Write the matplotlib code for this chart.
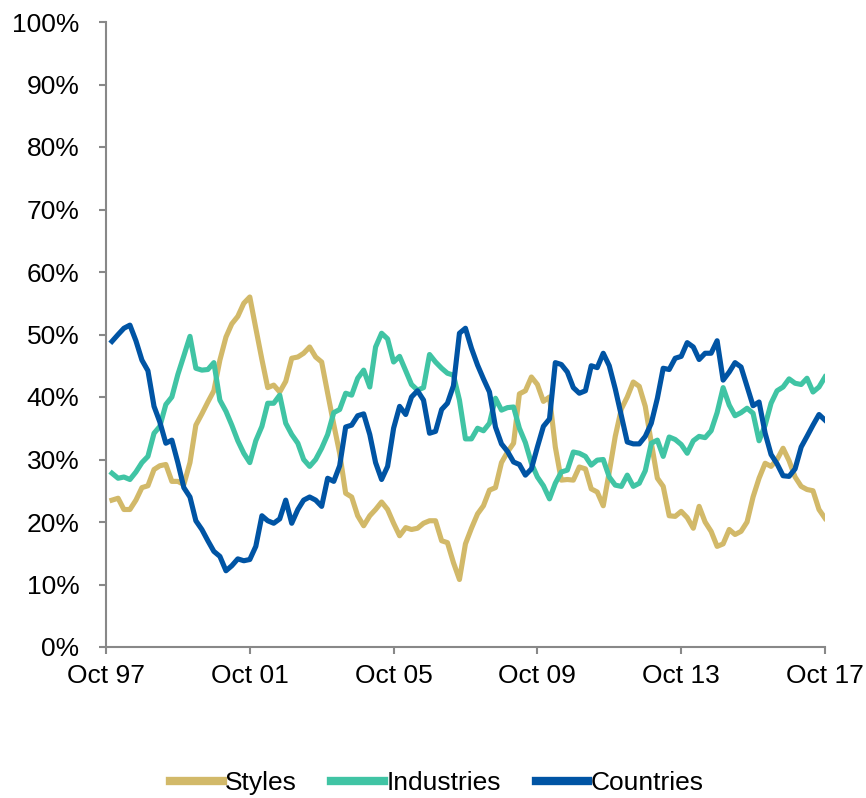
import numpy as np
import pandas as pd
import matplotlib
matplotlib.use("Agg")
import matplotlib.pyplot as plt
import matplotlib.dates as mdates
from matplotlib.ticker import MultipleLocator, FuncFormatter

plt.rcParams['font.family'] = ['Liberation Sans', 'DejaVu Sans']

# bi-monthly readings, Dec 97 .. Oct 17 (percent)
dates = pd.date_range('1997-12-01', periods=120, freq='2MS')

styles = [23.5, 23.8, 22.0, 22.0, 23.5, 25.5, 25.8, 28.4, 29.0, 29.2,
          26.5, 26.5, 26.0, 29.5, 35.5, 37.3, 39.2, 41.0, 45.9, 49.6,
          51.7, 52.9, 55.0, 56.0, 51.0, 46.0, 41.5, 41.9, 40.8, 42.5,
          46.2, 46.4, 47.0, 48.0, 46.4, 45.6, 40.6, 35.6, 31.0, 24.6,
          24.0, 21.0, 19.4, 21.0, 22.0, 23.2, 22.0, 19.8, 17.8, 19.1,
          18.8, 19.0, 19.8, 20.2, 20.2, 17.0, 16.7, 13.5, 10.8, 16.5,
          19.0, 21.3, 22.6, 25.1, 25.5, 29.5, 31.2, 32.6, 40.5, 41.0,
          43.2, 42.0, 39.3, 40.0, 32.0, 26.7, 26.8, 26.7, 28.8, 28.5,
          25.3, 24.8, 22.6, 28.0, 33.7, 38.1, 40.0, 42.4, 41.7, 38.5,
          32.7, 27.0, 25.7, 21.0, 20.9, 21.7, 20.7, 19.0, 22.5, 20.0,
          18.5, 16.1, 16.5, 18.8, 18.0, 18.5, 20.0, 24.0, 27.0, 29.4,
          28.9, 30.0, 31.8, 29.8, 27.2, 25.7, 25.2, 25.0, 22.0, 20.6]

industries = [27.8, 27.0, 27.2, 26.8, 28.0, 29.5, 30.5, 34.2, 35.3, 38.8,
              40.0, 43.6, 46.6, 49.7, 44.6, 44.3, 44.4, 45.5, 39.5, 37.7,
              35.5, 33.0, 31.0, 29.5, 33.0, 35.3, 39.0, 39.0, 40.3, 35.8,
              34.0, 32.6, 30.0, 28.9, 30.0, 31.8, 34.0, 37.5, 38.0, 40.6,
              40.3, 43.0, 44.3, 41.6, 48.0, 50.2, 49.3, 45.6, 46.5, 44.2,
              42.0, 41.1, 41.5, 46.8, 45.6, 44.6, 43.8, 43.5, 39.5, 33.3,
              33.3, 35.0, 34.6, 35.8, 39.8, 37.9, 38.3, 38.4, 35.0, 32.7,
              29.4, 27.2, 25.8, 23.7, 26.2, 28.0, 28.3, 31.2, 31.0, 30.5,
              29.1, 29.9, 30.0, 27.2, 25.9, 25.7, 27.5, 25.7, 26.2, 28.2,
              32.6, 33.1, 30.5, 33.6, 33.2, 32.4, 31.0, 33.0, 33.7, 33.5,
              34.6, 37.5, 41.5, 38.7, 37.0, 37.5, 38.2, 37.4, 33.0, 35.5,
              39.0, 41.0, 41.6, 42.9, 42.2, 42.0, 43.0, 40.8, 41.6, 43.2]

countries = [48.9, 50.0, 51.0, 51.5, 49.0, 45.9, 44.2, 38.5, 36.0, 32.6,
             33.1, 29.5, 25.5, 24.0, 20.2, 18.8, 17.0, 15.3, 14.5, 12.2,
             13.0, 14.1, 13.8, 14.0, 16.1, 21.0, 20.2, 19.8, 20.5, 23.5,
             19.8, 22.0, 23.5, 24.0, 23.5, 22.5, 27.0, 26.5, 29.0, 35.2,
             35.5, 37.0, 37.3, 34.0, 29.5, 26.8, 28.9, 35.0, 38.5, 37.2,
             40.0, 41.0, 39.5, 34.2, 34.5, 38.0, 39.0, 41.8, 50.2, 51.0,
             47.8, 45.1, 42.9, 40.8, 35.2, 32.5, 31.3, 29.6, 29.2, 27.5,
             28.5, 32.0, 35.3, 36.5, 45.5, 45.2, 44.0, 41.5, 40.6, 41.0,
             45.0, 44.7, 47.0, 45.0, 41.3, 37.0, 32.8, 32.5, 32.5, 33.7,
             35.8, 39.8, 44.6, 44.4, 46.2, 46.5, 48.7, 48.0, 46.0, 47.0,
             47.0, 49.0, 42.7, 44.0, 45.5, 44.8, 41.7, 38.6, 39.2, 34.2,
             30.8, 29.3, 27.4, 27.3, 28.5, 32.0, 33.7, 35.5, 37.2, 36.3]

series_names = ['Styles', 'Industries', 'Countries']
colors = ['#D2B969', '#40C4A4', '#0054A4']

fig = plt.figure(figsize=(8.66, 7.98), dpi=100)
ax = fig.add_axes([106/866, 1-647/798, 719/866, 625/798])

for vals, name, c in zip([styles, industries, countries], series_names, colors):
    ax.plot(dates, vals, color=c, lw=3.7, label=name, solid_joinstyle='round')

ax.set_ylim(0, 100)
ax.set_xlim(pd.Timestamp('1997-10-01'), pd.Timestamp('2017-10-01'))
ax.yaxis.set_major_locator(MultipleLocator(10))
ax.yaxis.set_major_formatter(FuncFormatter(lambda v, p: '%d%%' % v))
ax.set_xticks(pd.to_datetime(['1997-10-01', '2001-10-01', '2005-10-01',
                              '2009-10-01', '2013-10-01', '2017-10-01']))
ax.xaxis.set_major_formatter(mdates.DateFormatter('%b %y'))

for s in ['top', 'right']:
    ax.spines[s].set_visible(False)
for s in ['left', 'bottom']:
    ax.spines[s].set_color('#888888')
    ax.spines[s].set_linewidth(1.5)

ax.tick_params(axis='both', colors='#888888', width=1.5, length=5, labelcolor='black',
               labelsize=19)
ax.tick_params(axis='y', pad=14)
ax.tick_params(axis='x', pad=7)

fig.legend(loc='center', bbox_to_anchor=(437/866, 1-783/798), ncol=3, frameon=False,
           fontsize=19, handlelength=2.0, handletextpad=0.1, columnspacing=1.3)
for line in fig.legends[0].get_lines():
    line.set_linewidth(6)

fig.savefig('out.png', dpi=100)
